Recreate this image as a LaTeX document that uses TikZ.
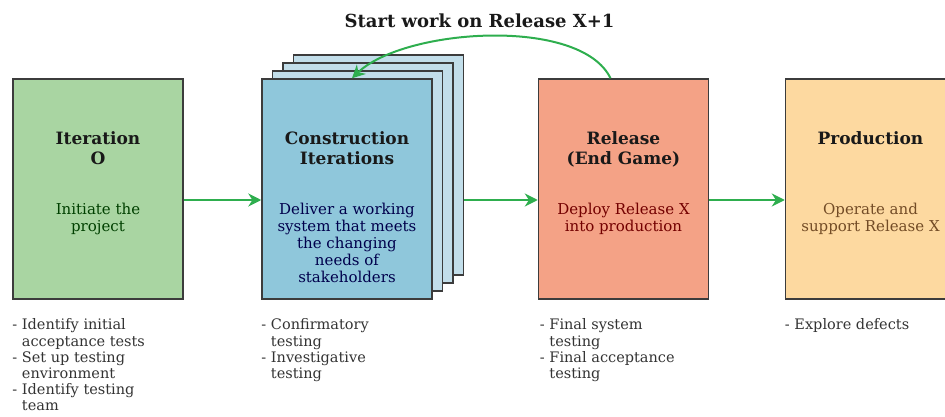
\documentclass[tikz,border=0pt]{standalone}
\usepackage{fontspec}
\setmainfont{DejaVu Serif}
\usetikzlibrary{positioning,calc,arrows.meta}

\definecolor{boxline}{HTML}{3C3C3C}
\definecolor{iterfill}{HTML}{A9D5A2}
\definecolor{constrfill}{HTML}{8FC7DB}
\definecolor{backfill}{HTML}{C2DEEA}
\definecolor{relfill}{HTML}{F4A286}
\definecolor{prodfill}{HTML}{FDD9A0}
\definecolor{flowgreen}{HTML}{2EAE4E}
\definecolor{listtext}{HTML}{333333}

\begin{document}
\begin{tikzpicture}
    [%%%%%%%%%%%%%%%%%%%%%%%%%%%%%%
        x=1pt, y=-1pt,
        phase/.style={rectangle,draw=boxline,line width=1.5pt, minimum width=170pt, minimum height=220pt, inner sep=0pt},
        sheet/.style={phase,fill=backfill},
        heading/.style={font=\bfseries\fontsize{17}{20}\selectfont, align=center, inner sep=0pt, text=black!90},
        blurb/.style={font=\fontsize{15}{17}\selectfont, align=center, inner sep=0pt},
        tasks/.style={font=\fontsize{14.5}{16.2}\selectfont, align=left, inner sep=0pt, text=listtext},
        flow/.style={draw=flowgreen, line width=2pt, -{Stealth[length=13pt,width=13pt]}},
    ]%%%%%%%%%%%%%%%%%%%%%%%%%%%%%%

\useasboundingbox (0,0) rectangle (945,417);

\node[phase,fill=iterfill] (iter0) at (98,189){};

\foreach \k in {3,2,1}
    \node[sheet] (constr\k) at (347+10.5*\k,189-8*\k){};
\node[phase,fill=constrfill] (constr) at (347,189){};

\node[phase,fill=relfill ] (release) at (623.5,189){};
\node[phase,fill=prodfill] (prod) at (870.5,189){};

\node[heading, below=53pt of iter0.north] (iter0head) {Iteration\\O};
\node[heading, below=53pt of constr.north] (constrhead) {Construction\\Iterations};
\node[heading, below=53pt of release.north] (releasehead) {Release\\(End Game)};
\node[heading, below=53pt of prod.north] (prodhead) {Production};

\node[blurb, text=green!25!black, below=125pt of iter0.north] (iter0text) {Initiate the\\project};
\node[blurb, text=blue!30!black, below=125pt of constr.north] (constrtext) {Deliver a working\\system that meets\\the changing\\needs of\\stakeholders};
\node[blurb, text=red!45!black, below=125pt of release.north] (releasetext) {Deploy Release X\\into production};
\node[blurb, text=brown!60!black, below=125pt of prod.north] (prodtext) {Operate and\\support Release X};

\node[tasks, below=19pt of iter0.south west, anchor=north west] (iter0tasks)
    {- Identify initial\\\phantom{- }acceptance tests\\- Set up testing\\\phantom{- }environment\\- Identify testing\\\phantom{- }team};
\node[tasks, below=19pt of constr.south west, anchor=north west] (constrtasks)
    {- Confirmatory\\\phantom{- }testing\\- Investigative\\\phantom{- }testing};
\node[tasks, below=19pt of release.south west, anchor=north west, xshift=2pt] (releasetasks)
    {- Final system\\\phantom{- }testing\\- Final acceptance\\\phantom{- }testing};
\node[tasks, below=19pt of prod.south west, anchor=north west] (prodtasks)
    {- Explore defects};

% arrows between the phases
\draw[flow] ([yshift=-11pt]iter0.east) -- ([yshift=-11pt]constr.west);
\draw[flow] ($(constr3.east |- release.west)+(0,11)$) -- ([yshift=-11pt]release.west);
\draw[flow] ([yshift=-11pt]release.east) -- ([yshift=-11pt]prod.west);

% next release loop
\draw[flow] ([xshift=-13pt]release.north) .. controls +(-30,-62) and +(52,-50) .. ([xshift=5pt]constr.north);
\node[font=\bfseries\fontsize{18}{20}\selectfont, text=black!90] (nextrel) at (479.5,21) {Start work on Release X+1};
\end{tikzpicture}
\end{document}
